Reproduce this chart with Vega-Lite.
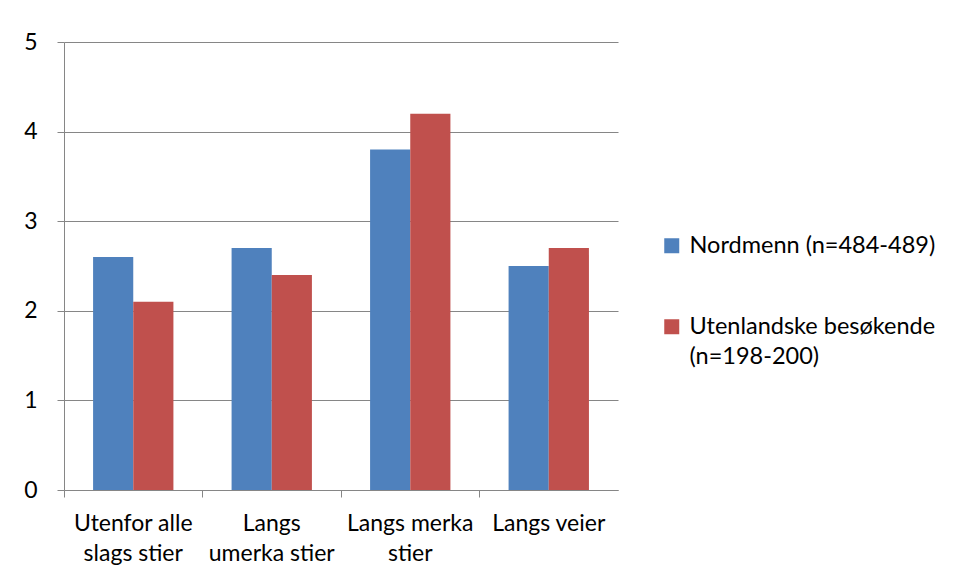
{
  "$schema": "https://vega.github.io/schema/vega-lite/v6.json",
  "autosize": {"type": "none"},
  "padding": {"left": 64, "top": 42, "right": 339, "bottom": 93},
  "width": 554,
  "height": 448,
  "background": "white",
  "config": {
    "font": "Lato",
    "view": {"stroke": null},
    "axis": {"labelFont": "Lato", "labelFontSize": 23, "labelColor": "#000000", "domainColor": "#868686", "tickColor": "#868686", "gridColor": "#868686", "titleFont": "Lato"},
    "legend": {"labelFont": "Lato", "labelFontSize": 23.5, "labelColor": "#000000"}
  },
  "data": {
    "values": [
      {"kategori": "Utenfor alle slags stier", "gruppe": "Nordmenn (n=484-489)", "verdi": 2.6},
      {"kategori": "Utenfor alle slags stier", "gruppe": "Utenlandske besøkende (n=198-200)", "verdi": 2.1},
      {"kategori": "Langs umerka stier", "gruppe": "Nordmenn (n=484-489)", "verdi": 2.7},
      {"kategori": "Langs umerka stier", "gruppe": "Utenlandske besøkende (n=198-200)", "verdi": 2.4},
      {"kategori": "Langs merka stier", "gruppe": "Nordmenn (n=484-489)", "verdi": 3.8},
      {"kategori": "Langs merka stier", "gruppe": "Utenlandske besøkende (n=198-200)", "verdi": 4.2},
      {"kategori": "Langs veier", "gruppe": "Nordmenn (n=484-489)", "verdi": 2.5},
      {"kategori": "Langs veier", "gruppe": "Utenlandske besøkende (n=198-200)", "verdi": 2.7}
    ]
  },
  "mark": {"type": "bar"},
  "encoding": {
    "x": {
      "field": "kategori",
      "type": "nominal",
      "sort": null,
      "title": null,
      "scale": {"paddingInner": 0.42, "paddingOuter": 0.21},
      "axis": {
        "labelAngle": 0,
        "labelPadding": 15,
        "labelLineHeight": 30,
        "labelBaseline": "top",
        "tickSize": 7,
        "bandPosition": -0.362,
        "labelLimit": 200,
        "labelOverlap": false,
        "labelExpr": "datum.value == 'Utenfor alle slags stier' ? ['Utenfor alle', 'slags stier'] : datum.value == 'Langs umerka stier' ? ['Langs', 'umerka stier'] : datum.value == 'Langs merka stier' ? ['Langs merka', 'stier'] : datum.value"
      }
    },
    "xOffset": {"field": "gruppe", "type": "nominal", "scale": {"paddingInner": 0, "paddingOuter": 0}},
    "y": {
      "field": "verdi",
      "type": "quantitative",
      "title": null,
      "scale": {"domain": [0, 5], "nice": false},
      "axis": {"values": [0, 1, 2, 3, 4, 5], "grid": true, "tickSize": 7, "labelPadding": 20, "format": "d"}
    },
    "color": {
      "field": "gruppe",
      "type": "nominal",
      "title": null,
      "scale": {"domain": ["Nordmenn (n=484-489)", "Utenlandske besøkende (n=198-200)"], "range": ["#4F81BD", "#C0504D"]},
      "legend": {
        "orient": "none",
        "legendX": 596,
        "legendY": 192,
        "symbolType": "square",
        "symbolSize": 225,
        "symbolStrokeWidth": 0,
        "rowPadding": 56,
        "labelOffset": 6,
        "labelBaseline": "middle",
        "labelLimit": 320,
        "labelExpr": "datum.value == 'Utenlandske besøkende (n=198-200)' ? ['Utenlandske besøkende', '(n=198-200)'] : datum.value",
        "encode": {"labels": {"update": {"lineHeight": {"value": 30}}}}
      }
    }
  }
}
